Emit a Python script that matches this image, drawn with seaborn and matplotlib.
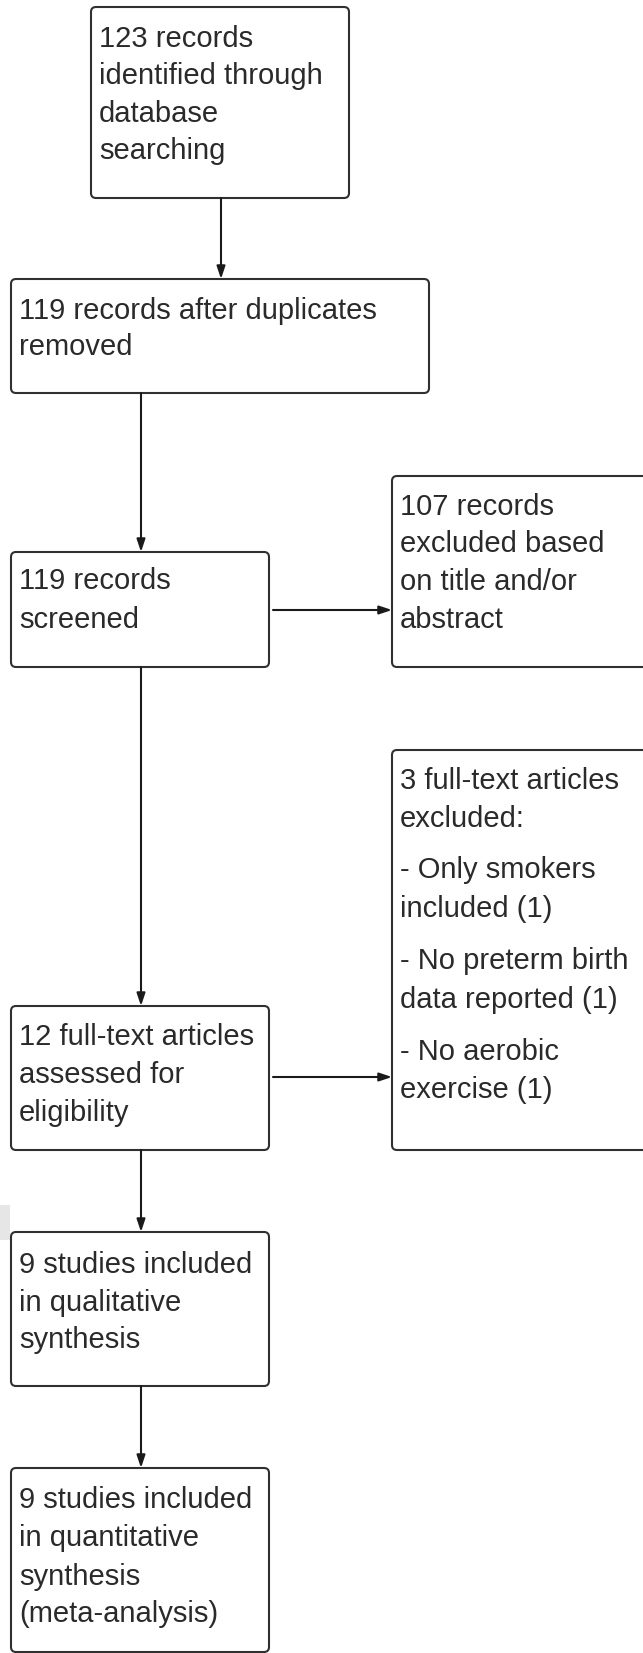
import matplotlib
matplotlib.use("Agg")
import matplotlib.pyplot as plt
import seaborn as sns
from matplotlib.patches import FancyBboxPatch, Rectangle

# ---- data: box contents and flow ----
box_texts = [
    ["123 records", "identified through", "database", "searching"],
    ["119 records after duplicates", "removed"],
    ["119 records", "screened"],
    ["107 records", "excluded based", "on title and/or", "abstract"],
    ["3 full-text articles", "excluded:", "- Only smokers", "included (1)",
     "- No preterm birth", "data reported (1)", "- No aerobic", "exercise (1)"],
    ["12 full-text articles", "assessed for", "eligibility"],
    ["9 studies included", "in qualitative", "synthesis"],
    ["9 studies included", "in quantitative", "synthesis", "(meta-analysis)"],
]
edges = [(0, 1), (1, 2), (2, 3), (2, 5), (5, 4), (5, 6), (6, 7)]

# ---- layout (pixel coordinates, y downward) ----
W, H = 643, 1653
box_x0 = [91, 11, 11, 392, 392, 11, 11, 11]
box_x1 = [349, 429, 269, 665, 665, 269, 269, 269]
box_y0 = [7, 279, 552, 476, 750, 1006, 1232, 1468]
box_y1 = [198, 393, 667, 667, 1150, 1150, 1386, 1652]
line_y = [
    [39, 76, 114, 151],
    [311, 347],
    [581, 620],
    [507, 544, 582, 620],
    [781, 819, 870, 909, 961, 1000, 1052, 1090],
    [1037, 1075, 1113],
    [1265, 1303, 1340],
    [1500, 1538, 1577, 1614],
]
text_pad = 8
# edge anchor: x for vertical edges, y for horizontal edges
edge_pos = [221, 141, 610, 141, 1077, 141, 141]

sns.set_theme(style="white")
plt.rcParams["font.family"] = ["Liberation Sans", "DejaVu Sans"]

fig = plt.figure(figsize=(W / 100, H / 100), dpi=100)
ax = fig.add_axes([0, 0, 1, 1])
ax.set_xlim(0, W)
ax.set_ylim(H, 0)
ax.axis("off")

edge_col = "#303030"
txt_col = "#2a2a2a"

# faint artifact block at left edge
ax.add_patch(Rectangle((0, 1205), 10, 35, facecolor="#e6e6e6", edgecolor="none"))

for i, lines in enumerate(box_texts):
    x0, x1, y0, y1 = box_x0[i], box_x1[i], box_y0[i], box_y1[i]
    ax.add_patch(FancyBboxPatch((x0, y0), x1 - x0, y1 - y0,
                                boxstyle="round,pad=0,rounding_size=5",
                                facecolor="white", edgecolor=edge_col,
                                linewidth=1.5))
    for t, y in zip(lines, line_y[i]):
        ax.text(x0 + text_pad, y, t, fontsize=21, color=txt_col,
                ha="left", va="center")

for (s, t), p in zip(edges, edge_pos):
    if box_y0[t] >= box_y1[s]:
        start, end = (p, box_y1[s]), (p, box_y0[t])
    else:
        start, end = (box_x1[s] + 4, p), (box_x0[t], p)
    ax.annotate("", xy=end, xytext=start,
                arrowprops=dict(arrowstyle="-|>,head_length=0.75,head_width=0.25",
                                mutation_scale=10, lw=1.5, color="#1a1a1a",
                                shrinkA=0, shrinkB=0))

fig.savefig("out.png", dpi=100)
